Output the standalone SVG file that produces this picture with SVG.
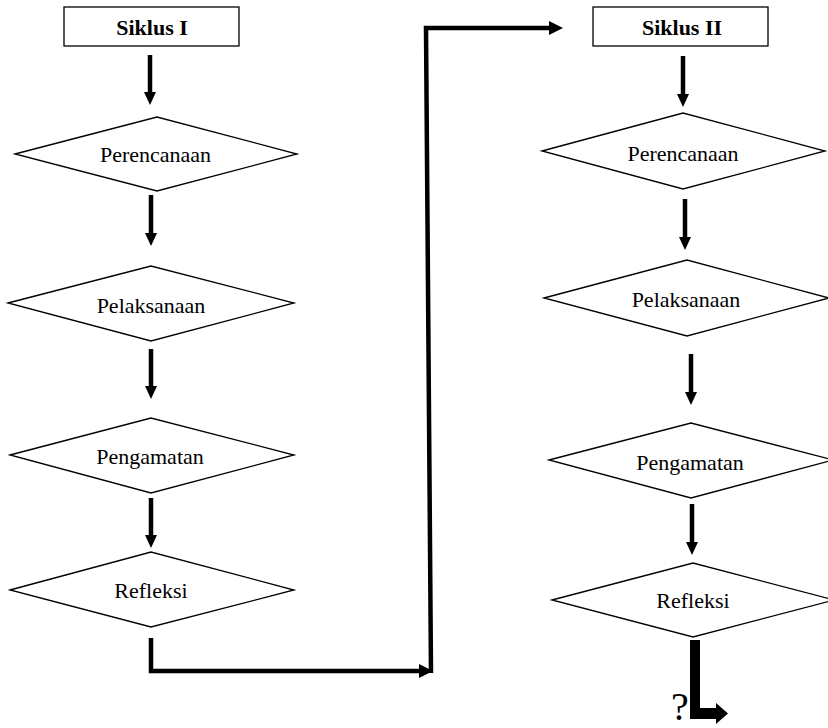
<svg xmlns="http://www.w3.org/2000/svg" width="828" height="728" viewBox="0 0 828 728">
<style>
.box{fill:#fff;stroke:#000;stroke-width:1.3}
.dia{fill:#fff;stroke:#000;stroke-width:1.3}
.t{font-size:22px;text-anchor:middle;fill:#000}
.b{font-weight:bold}
.c{fill:none;stroke:#000;stroke-width:4.5}
</style>
<defs>
<marker id="ah" markerUnits="userSpaceOnUse" markerWidth="14" markerHeight="12" refX="1" refY="6" orient="auto">
<path d="M0,0 L13,6 L0,12 z" fill="#000"/>
</marker>
<marker id="ah2" markerUnits="userSpaceOnUse" markerWidth="15" markerHeight="14" refX="1" refY="7" orient="auto">
<path d="M0,0 L14,7 L0,14 z" fill="#000"/>
</marker>
</defs>
<rect width="828" height="728" fill="#fff"/>
<g id="connectors">
<line class="c" x1="150" y1="55" x2="150" y2="93" marker-end="url(#ah)"/>
<line class="c" x1="151" y1="195" x2="151" y2="234" marker-end="url(#ah)"/>
<line class="c" x1="151" y1="349" x2="151" y2="387" marker-end="url(#ah)"/>
<line class="c" x1="151" y1="498" x2="151" y2="536" marker-end="url(#ah)"/>
<line class="c" x1="683" y1="56" x2="683" y2="95" marker-end="url(#ah)"/>
<line class="c" x1="685" y1="199" x2="685" y2="238" marker-end="url(#ah)"/>
<line class="c" x1="691" y1="354" x2="691" y2="393" marker-end="url(#ah)"/>
<line class="c" x1="692" y1="504" x2="692" y2="543" marker-end="url(#ah)"/>
<polyline class="c" points="151,638 151,671 420,671" marker-end="url(#ah2)"/>
<polyline class="c" points="431,673 426,28 550,28" marker-end="url(#ah2)"/>
<polygon points="690,640 700,640 700,708 716,708 716,703 728,713.5 716,724 716,719 690,719" fill="#000"/>
</g>
<g font-family="Liberation Serif, Times New Roman, serif">
<g id="siklus1">
<rect class="box" x="64" y="7" width="175" height="39"/>
<text class="t b" x="152" y="35">Siklus I</text>
</g>
<g id="perencanaan1">
<polygon class="dia" points="15,154 157,117 297,154 157,191"/>
<text class="t" x="155.5" y="162">Perencanaan</text>
</g>
<g id="pelaksanaan1">
<polygon class="dia" points="8,303 151,266 294,303 151,341"/>
<text class="t" x="151" y="313">Pelaksanaan</text>
</g>
<g id="pengamatan1">
<polygon class="dia" points="10,455 151,418 294,455 151,493"/>
<text class="t" x="150" y="464">Pengamatan</text>
</g>
<g id="refleksi1">
<polygon class="dia" points="10,590 151,552 294,590 151,627"/>
<text class="t" x="151" y="598">Refleksi</text>
</g>
<g id="siklus2">
<rect class="box" x="593" y="7" width="175" height="39"/>
<text class="t b" x="682" y="35">Siklus II</text>
</g>
<g id="perencanaan2">
<polygon class="dia" points="542,151 683,113 825,151 683,189"/>
<text class="t" x="683" y="161">Perencanaan</text>
</g>
<g id="pelaksanaan2">
<polygon class="dia" points="544,298 687,260 829,298 687,336"/>
<text class="t" x="686" y="307">Pelaksanaan</text>
</g>
<g id="pengamatan2">
<polygon class="dia" points="549,460 691,423 833,460 691,498"/>
<text class="t" x="690" y="470">Pengamatan</text>
</g>
<g id="refleksi2">
<polygon class="dia" points="552,600 693,563 834,600 693,637"/>
<text class="t" x="693" y="608">Refleksi</text>
</g>
<text x="671" y="720" font-size="40" fill="#000">?</text>
</g>
</svg>
